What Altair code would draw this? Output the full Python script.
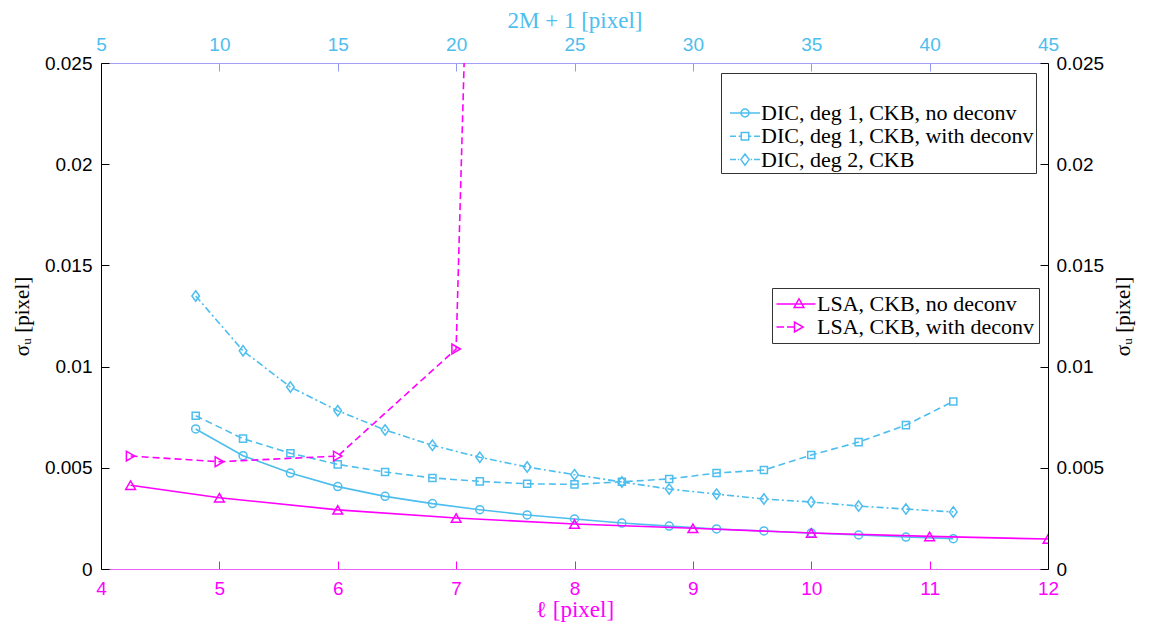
import altair as alt
import pandas as pd

# ---------------- data ----------------
ell_dic = [4.8, 5.2, 5.6, 6.0, 6.4, 6.8, 7.2, 7.6, 8.0, 8.4, 8.8, 9.2, 9.6, 10.0, 10.4, 10.8, 11.2]
dic_deg1_nodeconv = [0.00692, 0.00560, 0.00474, 0.00407, 0.00359, 0.00323, 0.00293, 0.00267, 0.00247,
                     0.00227, 0.00212, 0.00198, 0.00188, 0.00178, 0.00168, 0.00158, 0.00150]
dic_deg1_deconv = [0.00757, 0.00644, 0.00572, 0.00517, 0.00479, 0.00450, 0.00433, 0.00421, 0.00418,
                   0.00431, 0.00445, 0.00474, 0.00489, 0.00563, 0.00627, 0.00711, 0.00828]
dic_deg2 = [0.01349, 0.01078, 0.00899, 0.00782, 0.00687, 0.00611, 0.00552, 0.00504, 0.00466,
            0.00430, 0.00395, 0.00370, 0.00346, 0.00331, 0.00311, 0.00296, 0.00282]
ell_lsa = [4.25, 5, 6, 7, 8, 9, 10, 11, 12]
lsa_nodeconv = [0.00414, 0.00352, 0.00292, 0.00252, 0.00222, 0.00201, 0.00178, 0.00161, 0.00148]
ell_lsa_deconv = [4.25, 5, 6, 7, 8]
lsa_deconv = [0.00558, 0.00530, 0.00558, 0.01087, 0.22]

dic_names = ["DIC, deg 1, CKB, no deconv", "DIC, deg 1, CKB, with deconv", "DIC, deg 2, CKB"]
lsa_names = ["LSA, CKB, no deconv", "LSA, CKB, with deconv"]

x_ticks = [4, 5, 6, 7, 8, 9, 10, 11, 12]
y_ticks = [0, 0.005, 0.01, 0.015, 0.02, 0.025]

BLUE = "#4DBEEE"
MAG = "#FF00FF"
SANS = "Liberation Sans"
SERIF = "Liberation Serif"


def frame(ell, vals, name):
    return pd.DataFrame({"ell": ell, "sigma": vals, "series": name})


df_d1 = frame(ell_dic, dic_deg1_nodeconv, dic_names[0])
df_d2 = frame(ell_dic, dic_deg1_deconv, dic_names[1])
df_d3 = frame(ell_dic, dic_deg2, dic_names[2])
df_l1 = frame(ell_lsa, lsa_nodeconv, lsa_names[0])
df_l2 = frame(ell_lsa_deconv, lsa_deconv, lsa_names[1])
df_dic = pd.concat([df_d1, df_d2, df_d3])
df_lsa = pd.concat([df_l1, df_l2])

SX = alt.Scale(domain=[4, 12], nice=False, zero=False)
SY = alt.Scale(domain=[0, 0.025], nice=False)


def xy(xaxis=None, yaxis=None):
    return dict(
        x=alt.X("ell:Q", scale=SX, axis=xaxis),
        y=alt.Y("sigma:Q", scale=SY, axis=yaxis),
    )


def series(df, color, shape, size, dash=None):
    lkw = dict(color=color, strokeWidth=1.6, clip=True)
    if dash:
        lkw["strokeDash"] = dash
    line = alt.Chart(df).mark_line(**lkw).encode(**xy())
    pts = alt.Chart(df).mark_point(shape=shape, color=color, filled=False, size=size,
                                   strokeWidth=1.5, opacity=1, clip=True).encode(**xy())
    return [line, pts]


layers = []
layers += series(df_d1, BLUE, "circle", 64)
layers += series(df_d2, BLUE, "square", 50, [7, 4])
layers += series(df_d3, BLUE, "M0,-1.3L0.95,0L0,1.3L-0.95,0Z", 64, [7, 3, 2, 3])
layers += series(df_l1, MAG, "triangle-up", 95)
layers += series(df_l2, MAG, "triangle-right", 95, [7, 4])

# ---------------- axes ----------------
axis_df = pd.DataFrame({"ell": [4, 12], "sigma": [0, 0.025]})
INWARD = alt.ExprRef(expr="-8")

common = dict(labelFont=SANS, labelFontSize=19, labelFlush=False, tickSize=INWARD,
              titleFont=SERIF, titleFontWeight="normal", grid=False)

ax_bottom = alt.Axis(orient="bottom", values=x_ticks, format="d", title="ℓ [pixel]",
                     titleColor=MAG, titleFontSize=23, titlePadding=0, labelColor=MAG,
                     labelPadding=18, tickColor=MAG, domainColor="#F060F8", domainWidth=1.2,
                     **common)
ax_left = alt.Axis(orient="left", values=y_ticks, format="~g", title="σᵤ [pixel]",
                   titleColor="black", titleFontSize=21, titlePadding=12, labelColor="black",
                   labelPadding=17, tickColor="black", domainColor="black", **common)
ax_top = alt.Axis(orient="top", values=x_ticks, labelExpr="format(5*datum.value-15, 'd')",
                  title="2M + 1 [pixel]", titleColor=BLUE, titleFontSize=23, titlePadding=3,
                  labelColor=BLUE, labelPadding=17, tickColor="#8F9CF0", domainColor="#A49EF2",
                  domainWidth=1.2, **common)
ax_right = alt.Axis(orient="right", values=y_ticks, format="~g", title="σᵤ [pixel]",
                    titleColor="black", titleFontSize=21, titleAngle=270, titleBaseline="top",
                    titlePadding=9, labelColor="black", labelPadding=16, tickColor="black",
                    domainColor="black", **common)

axes_a = alt.Chart(axis_df).mark_point(opacity=0).encode(**xy(ax_bottom, ax_left))
axes_b = alt.Chart(axis_df).mark_point(opacity=0).encode(**xy(ax_top, ax_right))

# ---------------- legends ----------------
dic_paths = [
    "M-2,0H2M0.53,0A0.53,0.53,0,1,1,-0.53,0A0.53,0.53,0,1,1,0.53,0",
    "M-2,0H-1.2M-0.85,0H-0.5M0.5,0H0.85M1.2,0H2M-0.5,-0.5H0.5V0.5H-0.5Z",
    "M-2,0H-1.2M-0.95,0H-0.8M0.75,0H0.95M1.2,0H2M0,-0.75L0.55,0L0,0.75L-0.55,0Z",
]
lsa_paths = [
    "M-2.6,0H2.6M0.4,-0.7L1.05,0.45L-0.25,0.45Z",
    "M-2.6,0H-1.6M-1.2,0H-0.2M-0.2,-0.65L0.95,0L-0.2,0.65Z",
]


def legend(x, y, pad, sym_off, lab_off, row_pad, title=None, title_size=0, clip_h=None):
    kw = dict(orient="none", legendX=x, legendY=y, padding=pad, strokeColor="#333333",
              fillColor="white", cornerRadius=0, labelFont=SERIF, labelFontSize=22,
              labelColor="black", labelLimit=500, symbolSize=225, symbolStrokeWidth=1.5,
              symbolOpacity=1, symbolFillColor="transparent", symbolOffset=sym_off,
              labelOffset=lab_off, rowPadding=row_pad)
    if clip_h:
        kw["clipHeight"] = clip_h
    if title:
        kw.update(title=title, titleFontSize=title_size, titlePadding=4)
    else:
        kw.update(title=None)
    return alt.Legend(**kw)


leg_dic = alt.Chart(df_dic).mark_point(opacity=0, filled=False, color=BLUE).encode(
    **xy(),
    shape=alt.Shape("series:N", scale=alt.Scale(domain=dic_names, range=dic_paths),
                    legend=legend(620, 10, 2, 11, 5, 1.3, " ", 24, 20)),
)
leg_lsa = alt.Chart(df_lsa).mark_point(opacity=0, filled=False, color=MAG).encode(
    **xy(),
    shape=alt.Shape("series:N", scale=alt.Scale(domain=lsa_names, range=lsa_paths),
                    legend=legend(671, 225, 5, 8, 10, 1)),
)

chart = (
    alt.layer(axes_a, axes_b, *layers, leg_dic, leg_lsa)
    .resolve_axis(x="independent", y="independent")
    .resolve_scale(shape="independent")
    .resolve_legend(shape="independent")
    .properties(width=947, height=506,
                autosize=alt.AutoSizeParams(type="none"),
                padding={"left": 93, "top": 55, "right": 93, "bottom": 54})
    .configure_view(stroke=None)
    .configure(background="white")
)

chart.save("out.html", embed_options={"renderer": "svg", "actions": False})
